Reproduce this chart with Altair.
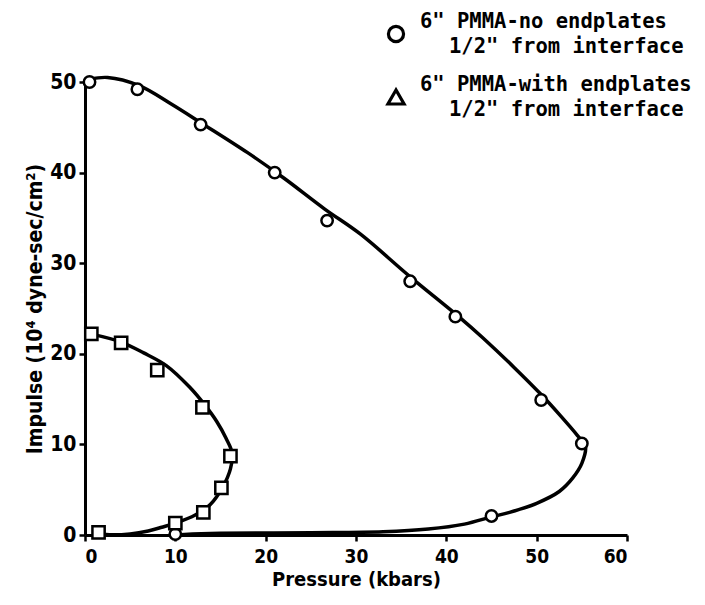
import altair as alt
import pandas as pd

# ---- measured data points ----
circ_p = [0.5, 5.8, 12.8, 21.0, 26.8, 36.0, 41.0, 50.5, 55.0, 45.0, 10.0]
circ_i = [50.0, 49.2, 45.3, 40.0, 34.7, 28.0, 24.1, 14.9, 10.1, 2.1, 0.1]

sq_p = [0.7, 4.0, 8.0, 13.0, 16.1, 15.1, 13.1, 10.0, 1.5]
sq_i = [22.2, 21.2, 18.2, 14.1, 8.7, 5.2, 2.5, 1.3, 0.3]

# ---- fitted curves (in drawing order) ----
ccurve_p = [0.5, 2.5, 6.0, 9.5, 13.0, 18.0, 22.0, 26.5, 30.5, 36.0, 41.5, 44.0,
            47.5, 50.5, 52.6, 54.5, 55.4, 55.0, 54.0, 52.5, 50.0, 47.0, 45.0,
            42.0, 38.0, 33.0, 25.0, 15.0, 11.0, 10.0]
ccurve_i = [50.3, 50.5, 49.6, 47.6, 45.4, 42.2, 39.4, 36.0, 33.2, 28.5, 24.0, 21.8,
            18.5, 15.5, 13.2, 11.0, 9.8, 7.9, 6.3, 4.8, 3.5, 2.5, 2.0,
            1.2, 0.65, 0.35, 0.25, 0.18, 0.06, 0.0]

scurve_p = [0.6, 4.0, 6.5, 9.0, 11.6, 13.3, 14.6, 15.6, 16.3, 16.1, 15.3, 13.9,
            12.2, 10.0, 8.5, 7.0, 5.0, 3.0, 1.5]
scurve_i = [22.2, 21.3, 20.1, 18.7, 16.3, 14.3, 12.5, 10.7, 9.0, 7.3, 5.4, 3.4,
            2.2, 1.3, 0.85, 0.45, 0.12, 0.02, 0.1]

x_ticks = [0, 10, 20, 30, 40, 50, 60]
y_ticks = [0, 10, 20, 30, 40, 50]

leg1 = ['6" PMMA-no endplates', '1/2" from interface']
leg2 = ['6" PMMA-with endplates', '1/2" from interface']

circles = pd.DataFrame({"p": circ_p, "i": circ_i})
squares = pd.DataFrame({"p": sq_p, "i": sq_i})
ccurve = pd.DataFrame({"p": ccurve_p, "i": ccurve_i, "o": range(len(ccurve_p))})
scurve = pd.DataFrame({"p": scurve_p, "i": scurve_i, "o": range(len(scurve_p))})

AXFONT = "DejaVu Sans Condensed"
LEGFONT = "DejaVu Sans Mono"

xs = alt.Scale(domain=[0, 60], nice=False, zero=False)
ys = alt.Scale(domain=[0, 50], nice=False, zero=False)

xax = alt.Axis(values=x_ticks, title="Pressure (kbars)", grid=False,
               labelFont=AXFONT, labelFontSize=19, labelFontWeight="bold",
               labelPadding=6, titleFont=AXFONT, titleFontSize=20,
               titleFontWeight="bold", titlePadding=3, domainWidth=3,
               domainColor="black", tickColor="black", tickWidth=2.5,
               tickSize=6, labelColor="black", titleColor="black")
yax = alt.Axis(values=y_ticks, title="Impulse (10⁴ dyne-sec/cm²)", grid=False,
               labelFont=AXFONT, labelFontSize=21, labelFontWeight="bold",
               labelPadding=3, titleFont=AXFONT, titleFontSize=21,
               titleFontWeight="bold", titlePadding=4, domainWidth=3,
               domainColor="black", tickColor="black", tickWidth=2.5,
               tickSize=6, labelColor="black", titleColor="black")

X = alt.X("p:Q", scale=xs, axis=xax)
Y = alt.Y("i:Q", scale=ys, axis=yax)

cline = alt.Chart(ccurve).mark_line(color="black", strokeWidth=3.5,
                                    interpolate="catmull-rom").encode(
    x=X, y=Y, order="o:Q")
sline = alt.Chart(scurve).mark_line(color="black", strokeWidth=3.5,
                                    interpolate="catmull-rom").encode(
    x=alt.X("p:Q", scale=xs), y=alt.Y("i:Q", scale=ys), order="o:Q")

cpts = alt.Chart(circles).mark_point(shape="circle", filled=True, fill="white",
                                     stroke="black", strokeWidth=2.5, size=130,
                                     opacity=1).encode(
    x=alt.X("p:Q", scale=xs), y=alt.Y("i:Q", scale=ys))
spts = alt.Chart(squares).mark_point(shape="square", filled=True, fill="white",
                                     stroke="black", strokeWidth=2.5, size=150,
                                     opacity=1).encode(
    x=alt.X("p:Q", scale=xs), y=alt.Y("i:Q", scale=ys))

# ---- legend built by hand (symbol + two text lines per entry) ----
def legend_entry(shape, lines, ysym, y1, y2, symsize):
    base = alt.Chart(pd.DataFrame({"a": [0]}))
    sym = base.mark_point(shape=shape, filled=False, stroke="black",
                          strokeWidth=3.2, size=symsize, opacity=1).encode(
        x=alt.value(311), y=alt.value(ysym))
    t1 = base.mark_text(text=lines[0], font=LEGFONT, fontSize=20.5,
                        fontWeight="bold", align="left", baseline="middle",
                        color="black").encode(x=alt.value(335), y=alt.value(y1))
    t2 = base.mark_text(text=lines[1], font=LEGFONT, fontSize=20.5,
                        fontWeight="bold", align="left", baseline="middle",
                        color="black").encode(x=alt.value(364), y=alt.value(y2))
    return sym + t1 + t2

legA = legend_entry("circle", leg1, -48, -60, -35, 230)
legB = legend_entry("triangle-up", leg2, 15, 3, 28, 260)

chart = alt.layer(cline, sline, cpts, spts, legA, legB).properties(
    width=542, height=453,
    autosize=alt.AutoSizeParams(type="none"),
    padding={"left": 77, "top": 74, "right": 68, "bottom": 55},
    background="white",
).configure_view(strokeWidth=0, stroke=None)

chart.save("out.html", embed_options={"renderer": "svg", "actions": False})
